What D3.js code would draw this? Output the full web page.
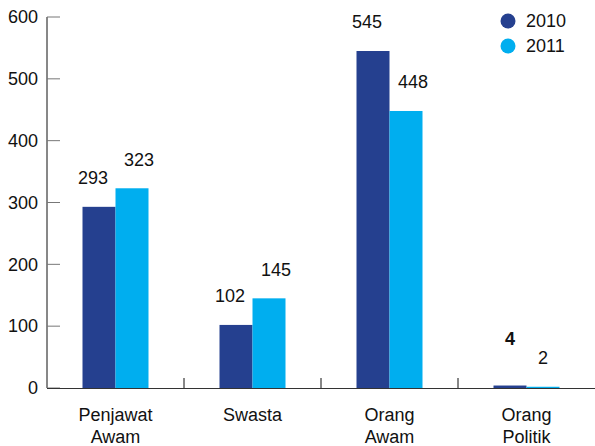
<!DOCTYPE html>
<html>
<head>
<meta charset="utf-8">
<script src="https://cdn.jsdelivr.net/npm/d3@7"></script>
<style>
  body { margin: 0; background: #fff; }
  svg { display: block; font-family: "Liberation Sans", Arial, sans-serif; }
</style>
</head>
<body>
<svg id="chart" width="595" height="446"></svg>
<script>
// data
const categories = [["Penjawat", "Awam"], ["Swasta"], ["Orang", "Awam"], ["Orang", "Politik"]];
const years = ["2010", "2011"];
const values2010 = [293, 102, 545, 4];
const values2011 = [323, 145, 448, 2];
const yTicks = [0, 100, 200, 300, 400, 500, 600];
const colors = ["#25408f", "#00aeef"];

const svg = d3.select("#chart");
const plotLeft = 47, plotRight = 595, plotTop = 17, plotBottom = 388;

const x = d3.scaleBand().domain(d3.range(categories.length)).range([plotLeft, plotRight]);
const y = d3.scaleLinear().domain([0, 600]).range([plotBottom, plotTop]);
const barW = 33;

const series = [values2010, values2011];

// bars
series.forEach((vals, s) => {
  svg.append("g").selectAll("rect").data(vals).enter().append("rect")
    .attr("x", (d, i) => x(i) + x.bandwidth() / 2 - barW + s * barW)
    .attr("y", d => y(d))
    .attr("width", barW)
    .attr("height", d => Math.max(y(0) - y(d), 0))
    .attr("fill", colors[s]);
});

// value labels
series.forEach((vals, s) => {
  svg.append("g").selectAll("text").data(vals).enter().append("text")
    .attr("x", (d, i) => {
      const c = x(i) + x.bandwidth() / 2 - barW / 2 + s * barW;
      return d < 10 ? c : c + (s === 0 ? -6 : 7);
    })
    .attr("y", d => y(d) - 29 - (d < 10 && s === 0 ? 18 : 0))
    .attr("dy", "0.35em")
    .attr("text-anchor", "middle")
    .attr("font-size", 18)
    .attr("font-weight", d => d < 10 && s === 0 ? "bold" : "normal")
    .attr("fill", "#111")
    .text(d => d);
});

// y axis
const yAxis = svg.append("g");
yAxis.append("line").attr("x1", plotLeft).attr("x2", plotLeft).attr("y1", plotTop).attr("y2", plotBottom)
  .attr("stroke", "#111").attr("stroke-width", 1);
yAxis.selectAll(".tick").data(yTicks).enter().append("line")
  .attr("x1", plotLeft).attr("x2", plotLeft + 13)
  .attr("y1", d => y(d)).attr("y2", d => y(d))
  .attr("stroke", "#777").attr("stroke-width", 1);
yAxis.selectAll("text").data(yTicks).enter().append("text")
  .attr("x", 38).attr("y", d => y(d)).attr("dy", "0.35em")
  .attr("text-anchor", "end").attr("font-size", 18).attr("fill", "#111")
  .text(d => d);

// x axis
const xAxis = svg.append("g");
xAxis.append("line").attr("x1", plotLeft).attr("x2", plotRight).attr("y1", plotBottom + 0.5).attr("y2", plotBottom + 0.5)
  .attr("stroke", "#333").attr("stroke-width", 1);
xAxis.selectAll(".sep").data(d3.range(1, categories.length)).enter().append("line")
  .attr("x1", i => x(i)).attr("x2", i => x(i))
  .attr("y1", plotBottom - 10).attr("y2", plotBottom)
  .attr("stroke", "#111").attr("stroke-width", 1);
categories.forEach((lines, i) => {
  const t = xAxis.append("text")
    .attr("x", x(i) + x.bandwidth() / 2).attr("y", 415)
    .attr("text-anchor", "middle").attr("font-size", 18).attr("fill", "#111");
  lines.forEach((ln, k) => {
    t.append("tspan").attr("x", x(i) + x.bandwidth() / 2)
      .attr("dy", k === 0 ? "0.35em" : 22).text(ln);
  });
});

// legend
const legend = svg.append("g");
years.forEach((yr, s) => {
  const cy = 21 + s * 25;
  legend.append("circle").attr("cx", 508).attr("cy", cy).attr("r", 7.5).attr("fill", colors[s]);
  legend.append("text").attr("x", 526).attr("y", cy).attr("dy", "0.35em")
    .attr("font-size", 18).attr("fill", "#111").text(yr);
});
</script>
</body>
</html>
